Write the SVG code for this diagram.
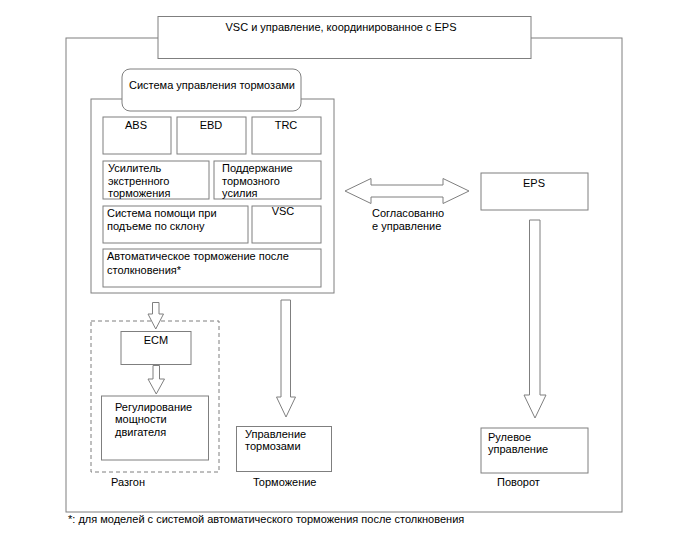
<svg xmlns="http://www.w3.org/2000/svg" width="688" height="560" viewBox="0 0 688 560">
<style>
.b{fill:#fff;stroke:#7f7f7f;stroke-width:1}
.d{fill:none;stroke:#7f7f7f;stroke-width:1;stroke-dasharray:4,3}
.a{fill:#fff;stroke:#7f7f7f;stroke-width:1;stroke-linejoin:miter}
text{font-family:"Liberation Sans",Arial,sans-serif;font-size:11px;fill:#000}
.m{text-anchor:middle}
</style>
<rect width="688" height="560" fill="#fff"/>
<g id="outer"><rect class="b" x="66" y="38" width="556" height="474"/></g>
<g id="title"><rect class="b" x="158" y="16.5" width="373" height="42"/><text class="m" x="341" y="31">VSC и управление, координированное с EPS</text></g>
<g id="brake-system">
<rect class="b" x="91" y="99" width="243" height="194"/>
<rect class="b" x="122" y="69" width="179" height="42" rx="8"/>
<text x="129" y="89">Система управления тормозами</text>
</g>
<g id="abs"><rect class="b" x="103" y="117" width="68" height="37"/><text class="m" x="136" y="129">ABS</text></g>
<g id="ebd"><rect class="b" x="177" y="117" width="69" height="37"/><text class="m" x="211" y="129">EBD</text></g>
<g id="trc"><rect class="b" x="252" y="117" width="69" height="37"/><text class="m" x="286" y="129">TRC</text></g>
<g id="bas"><rect class="b" x="103" y="161" width="106" height="38"/><text x="108" y="172">Усилитель</text><text x="108" y="184.5">экстренного</text><text x="108" y="197">торможения</text></g>
<g id="hold"><rect class="b" x="214" y="161" width="107" height="38"/><text x="222" y="172">Поддержание</text><text x="222" y="184.5">тормозного</text><text x="222" y="197">усилия</text></g>
<g id="hac"><rect class="b" x="103" y="206" width="145" height="37"/><text x="107" y="216.5">Система помощи при</text><text x="107" y="230">подъеме по склону</text></g>
<g id="vsc"><rect class="b" x="252" y="206" width="69" height="37"/><text class="m" x="283" y="215">VSC</text></g>
<g id="acb"><rect class="b" x="103" y="249" width="218" height="38"/><text x="107" y="259.5">Автоматическое торможение после</text><text x="107" y="274">столкновения*</text></g>
<g id="accel"><rect class="d" x="91" y="321" width="128" height="151"/><text x="111" y="486">Разгон</text></g>
<g id="ecm"><rect class="b" x="121" y="331.5" width="70" height="33"/><text class="m" x="156" y="344">ECM</text></g>
<g id="engine"><rect class="b" x="101.5" y="396" width="107" height="64"/><text x="115" y="410.5">Регулирование</text><text x="115" y="423">мощности</text><text x="115" y="435.5">двигателя</text></g>
<g id="brake-ctrl"><rect class="b" x="236.5" y="426.5" width="95" height="45"/><text x="245" y="438">Управление</text><text x="245" y="450">тормозами</text><text x="253" y="486">Торможение</text></g>
<g id="eps"><rect class="b" x="481" y="173" width="107" height="37"/><text class="m" x="534" y="187">EPS</text></g>
<g id="steer"><rect class="b" x="481" y="428" width="107" height="45"/><text x="488" y="440.5">Рулевое</text><text x="488" y="453">управление</text><text x="497" y="486">Поворот</text></g>
<g id="connectors">
<polygon class="a" points="345,191 371,178.5 371,185 443,185 443,178.5 469,191 443,203.5 443,197 371,197 371,203.5"/>
<polygon class="a" points="152.5,302.5 159,302.5 159,314 163.5,314 155.75,329 148,314 152.5,314"/>
<polygon class="a" points="153,365.5 159.5,365.5 159.5,379 164.5,379 156.25,394 148,379 153,379"/>
<polygon class="a" points="281,300 290.5,300 290.5,397 295.5,397 286,417 276.5,397 281,397"/>
<polygon class="a" points="529.5,220 540,220 540,395 546,395 535,418 524,395 529.5,395"/>
<text x="372" y="217">Согласованно</text>
<text x="372" y="230">е управление</text>
</g>
<text x="68" y="523">*: для моделей с системой автоматического торможения после столкновения</text>
</svg>
